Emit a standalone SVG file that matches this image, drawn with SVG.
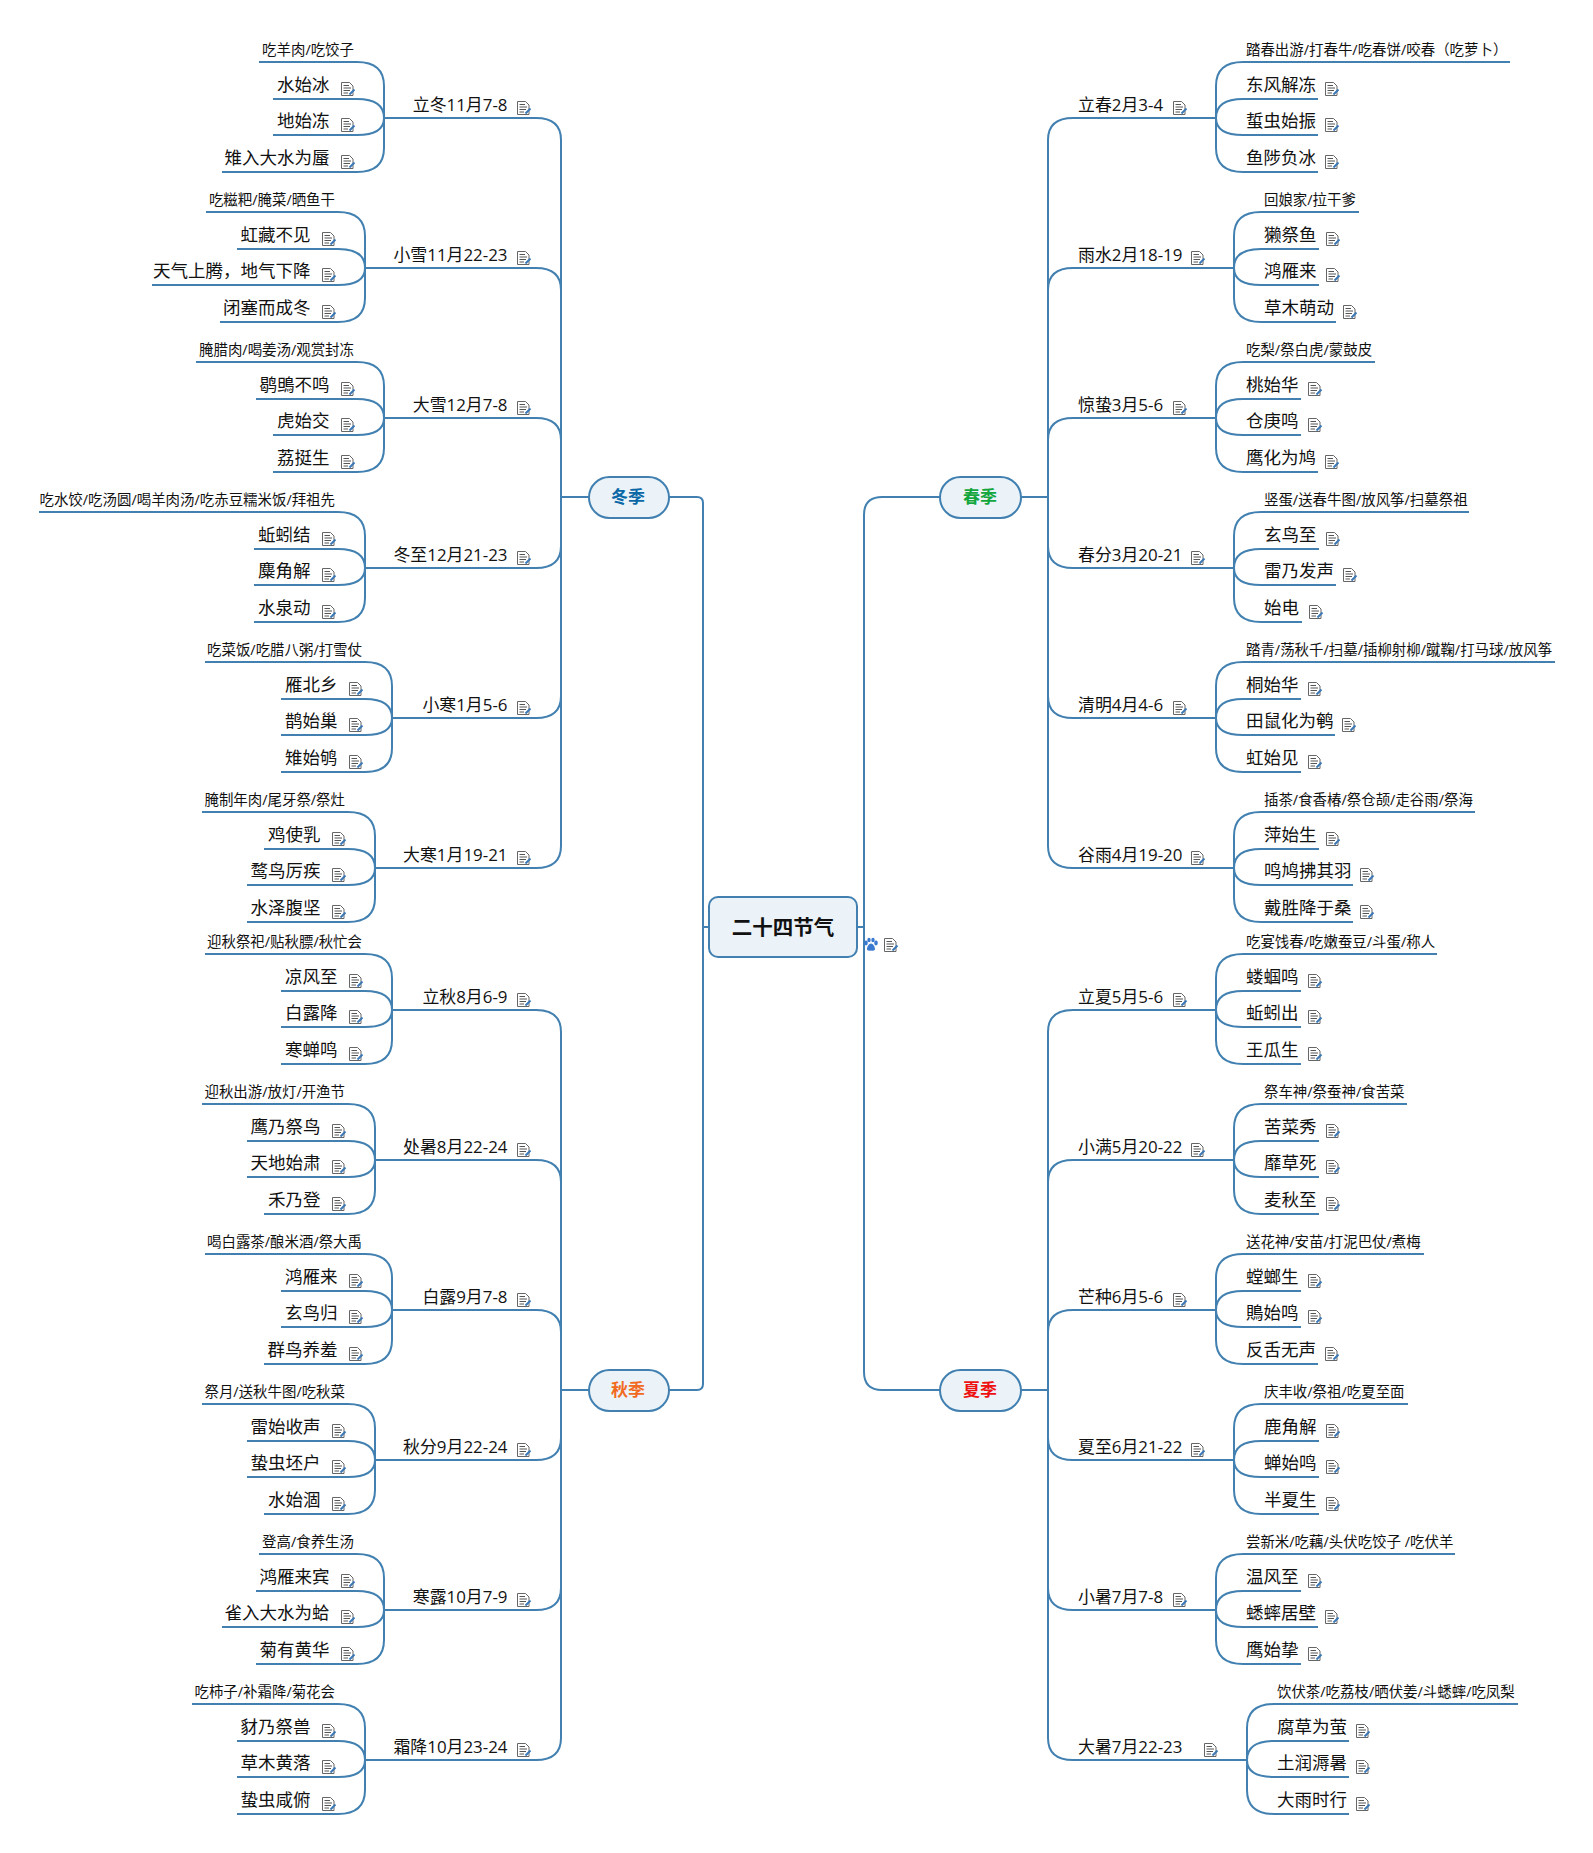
<svg xmlns="http://www.w3.org/2000/svg" width="1593" height="1853" viewBox="0 0 1593 1853">
<style>
text{font-family:"Open Sans","Noto Sans CJK SC",sans-serif;fill:#111}
.t{font-size:16.9px;transform:translate(0,-.5px)}
.l{font-size:17.5px;transform:translate(0,-1px)}
.n{font-size:14.45px;transform:translate(0,-1px)}
.t.e{transform:translate(.5px,-.5px)}
.l.e{transform:translate(1.500px,-1px)}
.n.e{transform:translate(1px,-1px)}
.e{text-anchor:end}
.s{font-size:17px;font-weight:700;text-anchor:middle;font-family:"Noto Sans CJK SC",sans-serif}
.c path{fill:none;stroke:#4180b0;stroke-width:2}
.b{fill:#ebf3f9;stroke:#4180b0;stroke-width:2}
</style>
<defs>
<g id="i"><path d="M.5.5H8.5L12 4V13.5H.5Z" fill="#fff" stroke="#666"/><path d="M2.5 3.5H8M2.5 6H10M2.5 8.5H9M2.5 11H7" fill="none" stroke="#555"/><path d="M8.5 12.5L13.5 7.5" stroke="#3b78b5" stroke-width="2"/></g>
</defs>
<g id="connectors" class="c">
<path d="M709 927H703"/><path d="M669 497H697Q703 497 703 503V1384Q703 1390 697 1390H669"/>
<path d="M857 927H864"/><path d="M940 497H882Q864 497 864 515V1372Q864 1390 882 1390H940"/>
<path d="M1021 497H1048"/><path d="M1021 1390H1048"/><path d="M589 497H561"/><path d="M589 1390H561"/>
<path d="M1048 497V140Q1048 118 1073 118H1216"/><path d="M1048 497V290Q1048 268 1073 268H1234"/><path d="M1048 497V440Q1048 418 1073 418H1216"/><path d="M1048 497V546Q1048 568 1073 568H1234"/><path d="M1048 497V696Q1048 718 1073 718H1216"/><path d="M1048 497V846Q1048 868 1073 868H1234"/>
<path d="M1048 1390V1032Q1048 1010 1073 1010H1216"/><path d="M1048 1390V1182Q1048 1160 1073 1160H1234"/><path d="M1048 1390V1332Q1048 1310 1073 1310H1216"/><path d="M1048 1390V1438Q1048 1460 1073 1460H1234"/><path d="M1048 1390V1588Q1048 1610 1073 1610H1216"/><path d="M1048 1390V1738Q1048 1760 1073 1760H1247"/>
<path d="M561 497V140Q561 118 536 118H384"/><path d="M561 497V290Q561 268 536 268H365"/><path d="M561 497V440Q561 418 536 418H384"/><path d="M561 497V546Q561 568 536 568H365"/><path d="M561 497V696Q561 718 536 718H392"/><path d="M561 497V846Q561 868 536 868H375"/>
<path d="M561 1390V1032Q561 1010 536 1010H392"/><path d="M561 1390V1182Q561 1160 536 1160H375"/><path d="M561 1390V1332Q561 1310 536 1310H392"/><path d="M561 1390V1438Q561 1460 536 1460H375"/><path d="M561 1390V1588Q561 1610 536 1610H384"/><path d="M561 1390V1738Q561 1760 536 1760H365"/>
<g transform="translate(1216,118)"><path d="M0 0V-32Q0-56 27-56H294"/><path d="M0 0Q0-19 27-19H102"/><path d="M0 0Q0 17 27 17H102"/><path d="M0 0V30Q0 54 27 54H102"/></g>
<g transform="translate(1234,268)"><path d="M0 0V-32Q0-56 27-56H125"/><path d="M0 0Q0-19 27-19H85"/><path d="M0 0Q0 17 27 17H85"/><path d="M0 0V30Q0 54 27 54H102"/></g>
<g transform="translate(1216,418)"><path d="M0 0V-32Q0-56 27-56H159"/><path d="M0 0Q0-19 27-19H85"/><path d="M0 0Q0 17 27 17H85"/><path d="M0 0V30Q0 54 27 54H102"/></g>
<g transform="translate(1234,568)"><path d="M0 0V-32Q0-56 27-56H235"/><path d="M0 0Q0-19 27-19H85"/><path d="M0 0Q0 17 27 17H102"/><path d="M0 0V30Q0 54 27 54H68"/></g>
<g transform="translate(1216,718)"><path d="M0 0V-32Q0-56 27-56H339"/><path d="M0 0Q0-19 27-19H85"/><path d="M0 0Q0 17 27 17H119"/><path d="M0 0V30Q0 54 27 54H85"/></g>
<g transform="translate(1234,868)"><path d="M0 0V-32Q0-56 27-56H241"/><path d="M0 0Q0-19 27-19H85"/><path d="M0 0Q0 17 27 17H119"/><path d="M0 0V30Q0 54 27 54H119"/></g>
<g transform="translate(1216,1010)"><path d="M0 0V-32Q0-56 27-56H221"/><path d="M0 0Q0-19 27-19H85"/><path d="M0 0Q0 17 27 17H85"/><path d="M0 0V30Q0 54 27 54H85"/></g>
<g transform="translate(1234,1160)"><path d="M0 0V-32Q0-56 27-56H173"/><path d="M0 0Q0-19 27-19H85"/><path d="M0 0Q0 17 27 17H85"/><path d="M0 0V30Q0 54 27 54H85"/></g>
<g transform="translate(1216,1310)"><path d="M0 0V-32Q0-56 27-56H208"/><path d="M0 0Q0-19 27-19H85"/><path d="M0 0Q0 17 27 17H85"/><path d="M0 0V30Q0 54 27 54H102"/></g>
<g transform="translate(1234,1460)"><path d="M0 0V-32Q0-56 27-56H174"/><path d="M0 0Q0-19 27-19H85"/><path d="M0 0Q0 17 27 17H85"/><path d="M0 0V30Q0 54 27 54H85"/></g>
<g transform="translate(1216,1610)"><path d="M0 0V-32Q0-56 27-56H239"/><path d="M0 0Q0-19 27-19H85"/><path d="M0 0Q0 17 27 17H102"/><path d="M0 0V30Q0 54 27 54H85"/></g>
<g transform="translate(1247,1760)"><path d="M0 0V-32Q0-56 27-56H271"/><path d="M0 0Q0-19 27-19H102"/><path d="M0 0Q0 17 27 17H102"/><path d="M0 0V30Q0 54 27 54H102"/></g>
<g transform="translate(384,118)"><path d="M0 0V-32Q0-56-27-56H-125"/><path d="M0 0Q0-19-27-19H-111"/><path d="M0 0Q0 17-27 17H-111"/><path d="M0 0V30Q0 54-27 54H-162"/></g>
<g transform="translate(365,268)"><path d="M0 0V-32Q0-56-27-56H-159"/><path d="M0 0Q0-19-27-19H-128"/><path d="M0 0Q0 17-27 17H-213"/><path d="M0 0V30Q0 54-27 54H-145"/></g>
<g transform="translate(384,418)"><path d="M0 0V-32Q0-56-27-56H-188"/><path d="M0 0Q0-19-27-19H-128"/><path d="M0 0Q0 17-27 17H-111"/><path d="M0 0V30Q0 54-27 54H-111"/></g>
<g transform="translate(365,568)"><path d="M0 0V-32Q0-56-27-56H-326"/><path d="M0 0Q0-19-27-19H-111"/><path d="M0 0Q0 17-27 17H-111"/><path d="M0 0V30Q0 54-27 54H-111"/></g>
<g transform="translate(392,718)"><path d="M0 0V-32Q0-56-27-56H-187"/><path d="M0 0Q0-19-27-19H-111"/><path d="M0 0Q0 17-27 17H-111"/><path d="M0 0V30Q0 54-27 54H-111"/></g>
<g transform="translate(375,868)"><path d="M0 0V-32Q0-56-27-56H-173"/><path d="M0 0Q0-19-27-19H-111"/><path d="M0 0Q0 17-27 17H-128"/><path d="M0 0V30Q0 54-27 54H-128"/></g>
<g transform="translate(392,1010)"><path d="M0 0V-32Q0-56-27-56H-187"/><path d="M0 0Q0-19-27-19H-111"/><path d="M0 0Q0 17-27 17H-111"/><path d="M0 0V30Q0 54-27 54H-111"/></g>
<g transform="translate(375,1160)"><path d="M0 0V-32Q0-56-27-56H-173"/><path d="M0 0Q0-19-27-19H-128"/><path d="M0 0Q0 17-27 17H-128"/><path d="M0 0V30Q0 54-27 54H-111"/></g>
<g transform="translate(392,1310)"><path d="M0 0V-32Q0-56-27-56H-187"/><path d="M0 0Q0-19-27-19H-111"/><path d="M0 0Q0 17-27 17H-111"/><path d="M0 0V30Q0 54-27 54H-128"/></g>
<g transform="translate(375,1460)"><path d="M0 0V-32Q0-56-27-56H-173"/><path d="M0 0Q0-19-27-19H-128"/><path d="M0 0Q0 17-27 17H-128"/><path d="M0 0V30Q0 54-27 54H-111"/></g>
<g transform="translate(384,1610)"><path d="M0 0V-32Q0-56-27-56H-125"/><path d="M0 0Q0-19-27-19H-128"/><path d="M0 0Q0 17-27 17H-162"/><path d="M0 0V30Q0 54-27 54H-128"/></g>
<g transform="translate(365,1760)"><path d="M0 0V-32Q0-56-27-56H-173"/><path d="M0 0Q0-19-27-19H-128"/><path d="M0 0Q0 17-27 17H-128"/><path d="M0 0V30Q0 54-27 54H-128"/></g>
</g>
<g id="root"><rect class="b" x="709" y="897" width="148" height="60" rx="9"/><text x="783" y="935" class="s" style="font-size:20.500px">二十四节气</text>
<g fill="#3a7ad0"><ellipse cx="866" cy="943" rx="1.8" ry="2.4"/><ellipse cx="869" cy="940" rx="1.7" ry="2.2"/><ellipse cx="873" cy="940" rx="1.7" ry="2.2"/><ellipse cx="876" cy="943" rx="1.8" ry="2.4"/><path d="M871 943.5c2.500 0 4 4 4 5.500s-1.500 2-4 1.500c-2.500.5-4 0-4-1.500s1.500-5.500 4-5.500Z"/></g>
<use href="#i" x="884" y="938"/></g>
<g id="chun"><rect class="b" x="940" y="477" width="81" height="41" rx="20.500"/><text x="980" y="503" class="s" style="fill:#12a63c">春季</text></g>
<g id="xia"><rect class="b" x="940" y="1370" width="81" height="41" rx="20.500"/><text x="980" y="1396" class="s" style="fill:#ee1111">夏季</text></g>
<g id="dong"><rect class="b" x="589" y="477" width="80" height="41" rx="20.500"/><text x="628" y="503" class="s" style="fill:#0b68a6">冬季</text></g>
<g id="qiu"><rect class="b" x="589" y="1370" width="80" height="41" rx="20.500"/><text x="628" y="1396" class="s" style="fill:#f26a21">秋季</text></g>

<g id="t1"><text class="t" x="1078" y="111">立春2月3-4</text><use href="#i" x="1173" y="101"/></g>
<g transform="translate(1246,118)"><g id="t1n"><text class="n" y="-62">踏春出游/打春牛/吃春饼/咬春（吃萝卜）</text></g>
<g id="t1a"><text class="l" y="-26">东风解冻</text><use href="#i" x="79" y="-36"/></g><g id="t1b"><text class="l" y="10">蜇虫始振</text><use href="#i" x="79" y="0"/></g><g id="t1c"><text class="l" y="47">鱼陟负冰</text><use href="#i" x="79" y="37"/></g></g>
<g id="t2"><text class="t" x="1078" y="261">雨水2月18-19</text><use href="#i" x="1191" y="251"/></g>
<g transform="translate(1264,268)"><g id="t2n"><text class="n" y="-62">回娘家/拉干爹</text></g>
<g id="t2a"><text class="l" y="-26">獭祭鱼</text><use href="#i" x="62" y="-36"/></g><g id="t2b"><text class="l" y="10">鸿雁来</text><use href="#i" x="62" y="0"/></g><g id="t2c"><text class="l" y="47">草木萌动</text><use href="#i" x="79" y="37"/></g></g>
<g id="t3"><text class="t" x="1078" y="411">惊蛰3月5-6</text><use href="#i" x="1173" y="401"/></g>
<g transform="translate(1246,418)"><g id="t3n"><text class="n" y="-62">吃梨/祭白虎/蒙鼓皮</text></g>
<g id="t3a"><text class="l" y="-26">桃始华</text><use href="#i" x="62" y="-36"/></g><g id="t3b"><text class="l" y="10">仓庚鸣</text><use href="#i" x="62" y="0"/></g><g id="t3c"><text class="l" y="47">鹰化为鸠</text><use href="#i" x="79" y="37"/></g></g>
<g id="t4"><text class="t" x="1078" y="561">春分3月20-21</text><use href="#i" x="1191" y="551"/></g>
<g transform="translate(1264,568)"><g id="t4n"><text class="n" y="-62">竖蛋/送春牛图/放风筝/扫墓祭祖</text></g>
<g id="t4a"><text class="l" y="-26">玄鸟至</text><use href="#i" x="62" y="-36"/></g><g id="t4b"><text class="l" y="10">雷乃发声</text><use href="#i" x="79" y="0"/></g><g id="t4c"><text class="l" y="47">始电</text><use href="#i" x="45" y="37"/></g></g>
<g id="t5"><text class="t" x="1078" y="711">清明4月4-6</text><use href="#i" x="1173" y="701"/></g>
<g transform="translate(1246,718)"><g id="t5n"><text class="n" y="-62">踏青/荡秋千/扫墓/插柳射柳/蹴鞠/打马球/放风筝</text></g>
<g id="t5a"><text class="l" y="-26">桐始华</text><use href="#i" x="62" y="-36"/></g><g id="t5b"><text class="l" y="10">田鼠化为鹌</text><use href="#i" x="96" y="0"/></g><g id="t5c"><text class="l" y="47">虹始见</text><use href="#i" x="62" y="37"/></g></g>
<g id="t6"><text class="t" x="1078" y="861">谷雨4月19-20</text><use href="#i" x="1191" y="851"/></g>
<g transform="translate(1264,868)"><g id="t6n"><text class="n" y="-62">插茶/食香椿/祭仓颉/走谷雨/祭海</text></g>
<g id="t6a"><text class="l" y="-26">萍始生</text><use href="#i" x="62" y="-36"/></g><g id="t6b"><text class="l" y="10">鸣鸠拂其羽</text><use href="#i" x="96" y="0"/></g><g id="t6c"><text class="l" y="47">戴胜降于桑</text><use href="#i" x="96" y="37"/></g></g>
<g id="t7"><text class="t" x="1078" y="1003">立夏5月5-6</text><use href="#i" x="1173" y="993"/></g>
<g transform="translate(1246,1010)"><g id="t7n"><text class="n" y="-62">吃宴饯春/吃嫩蚕豆/斗蛋/称人</text></g>
<g id="t7a"><text class="l" y="-26">蝼蝈鸣</text><use href="#i" x="62" y="-36"/></g><g id="t7b"><text class="l" y="10">蚯蚓出</text><use href="#i" x="62" y="0"/></g><g id="t7c"><text class="l" y="47">王瓜生</text><use href="#i" x="62" y="37"/></g></g>
<g id="t8"><text class="t" x="1078" y="1153">小满5月20-22</text><use href="#i" x="1191" y="1143"/></g>
<g transform="translate(1264,1160)"><g id="t8n"><text class="n" y="-62">祭车神/祭蚕神/食苦菜</text></g>
<g id="t8a"><text class="l" y="-26">苦菜秀</text><use href="#i" x="62" y="-36"/></g><g id="t8b"><text class="l" y="10">靡草死</text><use href="#i" x="62" y="0"/></g><g id="t8c"><text class="l" y="47">麦秋至</text><use href="#i" x="62" y="37"/></g></g>
<g id="t9"><text class="t" x="1078" y="1303">芒种6月5-6</text><use href="#i" x="1173" y="1293"/></g>
<g transform="translate(1246,1310)"><g id="t9n"><text class="n" y="-62">送花神/安苗/打泥巴仗/煮梅</text></g>
<g id="t9a"><text class="l" y="-26">螳螂生</text><use href="#i" x="62" y="-36"/></g><g id="t9b"><text class="l" y="10">鵙始鸣</text><use href="#i" x="62" y="0"/></g><g id="t9c"><text class="l" y="47">反舌无声</text><use href="#i" x="79" y="37"/></g></g>
<g id="t10"><text class="t" x="1078" y="1453">夏至6月21-22</text><use href="#i" x="1191" y="1443"/></g>
<g transform="translate(1264,1460)"><g id="t10n"><text class="n" y="-62">庆丰收/祭祖/吃夏至面</text></g>
<g id="t10a"><text class="l" y="-26">鹿角解</text><use href="#i" x="62" y="-36"/></g><g id="t10b"><text class="l" y="10">蝉始鸣</text><use href="#i" x="62" y="0"/></g><g id="t10c"><text class="l" y="47">半夏生</text><use href="#i" x="62" y="37"/></g></g>
<g id="t11"><text class="t" x="1078" y="1603">小暑7月7-8</text><use href="#i" x="1173" y="1593"/></g>
<g transform="translate(1246,1610)"><g id="t11n"><text class="n" y="-62">尝新米/吃藕/头伏吃饺子 /吃伏羊</text></g>
<g id="t11a"><text class="l" y="-26">温风至</text><use href="#i" x="62" y="-36"/></g><g id="t11b"><text class="l" y="10">蟋蟀居壁</text><use href="#i" x="79" y="0"/></g><g id="t11c"><text class="l" y="47">鹰始挚</text><use href="#i" x="62" y="37"/></g></g>
<g id="t12"><text class="t" x="1078" y="1753">大暑7月22-23</text><use href="#i" x="1204" y="1743"/></g>
<g transform="translate(1277,1760)"><g id="t12n"><text class="n" y="-62">饮伏茶/吃荔枝/晒伏姜/斗蟋蟀/吃凤梨</text></g>
<g id="t12a"><text class="l" y="-26">腐草为萤</text><use href="#i" x="79" y="-36"/></g><g id="t12b"><text class="l" y="10">土润溽暑</text><use href="#i" x="79" y="0"/></g><g id="t12c"><text class="l" y="47">大雨时行</text><use href="#i" x="79" y="37"/></g></g>

<g id="t13"><text class="t e" x="507" y="111">立冬11月7-8</text><use href="#i" x="517" y="101"/></g>
<g transform="translate(328,118)"><g id="t13n"><text class="n e" x="25" y="-62">吃羊肉/吃饺子</text></g>
<g id="t13a"><text class="l e" y="-26">水始冰</text><use href="#i" x="13" y="-36"/></g><g id="t13b"><text class="l e" y="10">地始冻</text><use href="#i" x="13" y="0"/></g><g id="t13c"><text class="l e" y="47">雉入大水为蜃</text><use href="#i" x="13" y="37"/></g></g>
<g id="t14"><text class="t e" x="507" y="261">小雪11月22-23</text><use href="#i" x="517" y="251"/></g>
<g transform="translate(309,268)"><g id="t14n"><text class="n e" x="25" y="-62">吃糍粑/腌菜/晒鱼干</text></g>
<g id="t14a"><text class="l e" y="-26">虹藏不见</text><use href="#i" x="13" y="-36"/></g><g id="t14b"><text class="l e" y="10">天气上腾，地气下降</text><use href="#i" x="13" y="0"/></g><g id="t14c"><text class="l e" y="47">闭塞而成冬</text><use href="#i" x="13" y="37"/></g></g>
<g id="t15"><text class="t e" x="507" y="411">大雪12月7-8</text><use href="#i" x="517" y="401"/></g>
<g transform="translate(328,418)"><g id="t15n"><text class="n e" x="25" y="-62">腌腊肉/喝姜汤/观赏封冻</text></g>
<g id="t15a"><text class="l e" y="-26">鹖鴠不鸣</text><use href="#i" x="13" y="-36"/></g><g id="t15b"><text class="l e" y="10">虎始交</text><use href="#i" x="13" y="0"/></g><g id="t15c"><text class="l e" y="47">荔挺生</text><use href="#i" x="13" y="37"/></g></g>
<g id="t16"><text class="t e" x="507" y="561">冬至12月21-23</text><use href="#i" x="517" y="551"/></g>
<g transform="translate(309,568)"><g id="t16n"><text class="n e" x="25" y="-62">吃水饺/吃汤圆/喝羊肉汤/吃赤豆糯米饭/拜祖先</text></g>
<g id="t16a"><text class="l e" y="-26">蚯蚓结</text><use href="#i" x="13" y="-36"/></g><g id="t16b"><text class="l e" y="10">麋角解</text><use href="#i" x="13" y="0"/></g><g id="t16c"><text class="l e" y="47">水泉动</text><use href="#i" x="13" y="37"/></g></g>
<g id="t17"><text class="t e" x="507" y="711">小寒1月5-6</text><use href="#i" x="517" y="701"/></g>
<g transform="translate(336,718)"><g id="t17n"><text class="n e" x="25" y="-62">吃菜饭/吃腊八粥/打雪仗</text></g>
<g id="t17a"><text class="l e" y="-26">雁北乡</text><use href="#i" x="13" y="-36"/></g><g id="t17b"><text class="l e" y="10">鹊始巢</text><use href="#i" x="13" y="0"/></g><g id="t17c"><text class="l e" y="47">雉始鸲</text><use href="#i" x="13" y="37"/></g></g>
<g id="t18"><text class="t e" x="507" y="861">大寒1月19-21</text><use href="#i" x="517" y="851"/></g>
<g transform="translate(319,868)"><g id="t18n"><text class="n e" x="25" y="-62">腌制年肉/尾牙祭/祭灶</text></g>
<g id="t18a"><text class="l e" y="-26">鸡使乳</text><use href="#i" x="13" y="-36"/></g><g id="t18b"><text class="l e" y="10">鹜鸟厉疾</text><use href="#i" x="13" y="0"/></g><g id="t18c"><text class="l e" y="47">水泽腹坚</text><use href="#i" x="13" y="37"/></g></g>
<g id="t19"><text class="t e" x="507" y="1003">立秋8月6-9</text><use href="#i" x="517" y="993"/></g>
<g transform="translate(336,1010)"><g id="t19n"><text class="n e" x="25" y="-62">迎秋祭祀/贴秋膘/秋忙会</text></g>
<g id="t19a"><text class="l e" y="-26">凉风至</text><use href="#i" x="13" y="-36"/></g><g id="t19b"><text class="l e" y="10">白露降</text><use href="#i" x="13" y="0"/></g><g id="t19c"><text class="l e" y="47">寒蝉鸣</text><use href="#i" x="13" y="37"/></g></g>
<g id="t20"><text class="t e" x="507" y="1153">处暑8月22-24</text><use href="#i" x="517" y="1143"/></g>
<g transform="translate(319,1160)"><g id="t20n"><text class="n e" x="25" y="-62">迎秋出游/放灯/开渔节</text></g>
<g id="t20a"><text class="l e" y="-26">鹰乃祭鸟</text><use href="#i" x="13" y="-36"/></g><g id="t20b"><text class="l e" y="10">天地始肃</text><use href="#i" x="13" y="0"/></g><g id="t20c"><text class="l e" y="47">禾乃登</text><use href="#i" x="13" y="37"/></g></g>
<g id="t21"><text class="t e" x="507" y="1303">白露9月7-8</text><use href="#i" x="517" y="1293"/></g>
<g transform="translate(336,1310)"><g id="t21n"><text class="n e" x="25" y="-62">喝白露茶/酿米酒/祭大禹</text></g>
<g id="t21a"><text class="l e" y="-26">鸿雁来</text><use href="#i" x="13" y="-36"/></g><g id="t21b"><text class="l e" y="10">玄鸟归</text><use href="#i" x="13" y="0"/></g><g id="t21c"><text class="l e" y="47">群鸟养羞</text><use href="#i" x="13" y="37"/></g></g>
<g id="t22"><text class="t e" x="507" y="1453">秋分9月22-24</text><use href="#i" x="517" y="1443"/></g>
<g transform="translate(319,1460)"><g id="t22n"><text class="n e" x="25" y="-62">祭月/送秋牛图/吃秋菜</text></g>
<g id="t22a"><text class="l e" y="-26">雷始收声</text><use href="#i" x="13" y="-36"/></g><g id="t22b"><text class="l e" y="10">蛰虫坯户</text><use href="#i" x="13" y="0"/></g><g id="t22c"><text class="l e" y="47">水始涸</text><use href="#i" x="13" y="37"/></g></g>
<g id="t23"><text class="t e" x="507" y="1603">寒露10月7-9</text><use href="#i" x="517" y="1593"/></g>
<g transform="translate(328,1610)"><g id="t23n"><text class="n e" x="25" y="-62">登高/食养生汤</text></g>
<g id="t23a"><text class="l e" y="-26">鸿雁来宾</text><use href="#i" x="13" y="-36"/></g><g id="t23b"><text class="l e" y="10">雀入大水为蛤</text><use href="#i" x="13" y="0"/></g><g id="t23c"><text class="l e" y="47">菊有黄华</text><use href="#i" x="13" y="37"/></g></g>
<g id="t24"><text class="t e" x="507" y="1753">霜降10月23-24</text><use href="#i" x="517" y="1743"/></g>
<g transform="translate(309,1760)"><g id="t24n"><text class="n e" x="25" y="-62">吃柿子/补霜降/菊花会</text></g>
<g id="t24a"><text class="l e" y="-26">豺乃祭兽</text><use href="#i" x="13" y="-36"/></g><g id="t24b"><text class="l e" y="10">草木黄落</text><use href="#i" x="13" y="0"/></g><g id="t24c"><text class="l e" y="47">蛰虫咸俯</text><use href="#i" x="13" y="37"/></g></g>
</svg>
